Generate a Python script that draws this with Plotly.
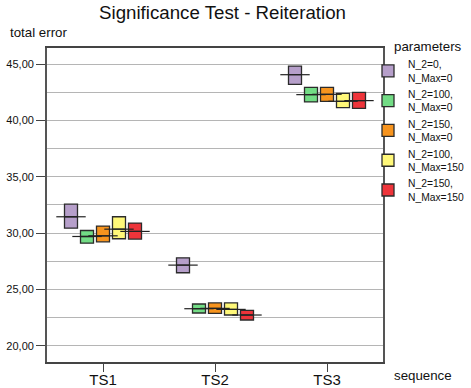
import plotly.graph_objects as go

sequences = ["TS1", "TS2", "TS3"]
param_names = [
    "N_2=0,<br>N_Max=0",
    "N_2=100,<br>N_Max=0",
    "N_2=150,<br>N_Max=0",
    "N_2=100,<br>N_Max=150",
    "N_2=150,<br>N_Max=150",
]
colors = ["#b69fca", "#72dc85", "#f7941e", "#fff879", "#ee343a"]

# per parameter set: values for TS1, TS2, TS3
q1_vals = [
    [30.43, 26.47, 43.20],
    [29.10, 22.90, 41.63],
    [29.22, 22.87, 41.69],
    [29.49, 22.72, 41.13],
    [29.46, 22.28, 41.07],
]
median_vals = [
    [31.44, 27.15, 44.05],
    [29.69, 23.28, 42.28],
    [29.75, 23.31, 42.31],
    [30.34, 23.22, 41.69],
    [30.14, 22.72, 41.75],
]
q3_vals = [
    [32.56, 27.80, 44.82],
    [30.22, 23.70, 42.93],
    [30.61, 23.79, 42.93],
    [31.44, 23.79, 42.40],
    [30.88, 23.13, 42.49],
]

FONT = "Liberation Sans, Arial, sans-serif"
BOXGAP = 0.2857

fig = go.Figure()
for name, col, q1, med, q3 in zip(param_names, colors, q1_vals, median_vals, q3_vals):
    fig.add_trace(go.Box(
        x=sequences, q1=q1, median=med, q3=q3,
        lowerfence=q1, upperfence=q3,
        name=name, fillcolor=col,
        line=dict(color="#2b2b2b", width=1.3),
        whiskerwidth=0, boxpoints=False,
    ))
for name, med in zip(param_names, median_vals):
    fig.add_trace(go.Scatter(
        x=sequences, y=med, mode="markers", showlegend=False,
        marker=dict(symbol="line-ew", size=21,
                    line=dict(color="#222222", width=1.2)),
        hoverinfo="skip",
    ))

fig.update_layout(
    width=471, height=388,
    margin=dict(l=47, r=88, t=48, b=26, autoexpand=False),
    paper_bgcolor="white", plot_bgcolor="white",
    font=dict(family=FONT, color="#111111", size=11),
    separators=",.",
    boxmode="group", boxgap=BOXGAP, boxgroupgap=0.1875,
    scattermode="group", scattergap=BOXGAP,
    title=dict(text="Significance Test - Reiteration",
               font=dict(size=18.7, family=FONT, color="#111111"),
               x=222.5 / 471, xanchor="center", xref="container",
               y=(388 - 12) / 388, yanchor="middle", yref="container"),
    legend=dict(
        font=dict(size=10.3),
        x=(368 - 47) / 336, xanchor="left", y=(362 - 51) / 314, yanchor="top",
        bgcolor="rgba(0,0,0,0)",
    ),
    xaxis=dict(
        type="category", range=[-0.5, 2.5], automargin=False,
        showline=True, linecolor="#444444", linewidth=1.5, mirror=True,
        ticks="outside", ticklen=8, tickcolor="#444444",
        ticklabelstandoff=-5,
        tickfont=dict(size=15), showgrid=False,
    ),
    yaxis=dict(
        range=[18.55, 46.42], dtick=5, tick0=0, tickformat=".2f", automargin=False,
        showline=True, linecolor="#555555", linewidth=1.8, mirror=True,
        ticks="outside", ticklen=9, tickcolor="#444444",
        tickfont=dict(size=11),
        showgrid=True, gridcolor="#b5b5b5", gridwidth=1,
        minor=dict(dtick=2.5, showgrid=True, gridcolor="#b5b5b5", gridwidth=1),
        zeroline=False,
    ),
    annotations=[
        dict(text="total error", xref="paper", yref="paper",
             x=(8 - 47) / 336, y=(362 - 33) / 314, xanchor="left", yanchor="middle",
             showarrow=False, font=dict(size=13.3)),
        dict(text="sequence", xref="paper", yref="paper",
             x=(392 - 47) / 336, y=(362 - 375) / 314, xanchor="left", yanchor="middle",
             showarrow=False, font=dict(size=13.3)),
        dict(text="parameters", xref="paper", yref="paper",
             x=(392 - 47) / 336, y=(362 - 46) / 314, xanchor="left", yanchor="middle",
             showarrow=False, font=dict(size=13.3)),
    ],
)

fig.write_html(
    "out.html",
    config={"displayModeBar": False},
    post_script="document.body.style.margin='0';document.body.style.overflow='hidden';",
)
